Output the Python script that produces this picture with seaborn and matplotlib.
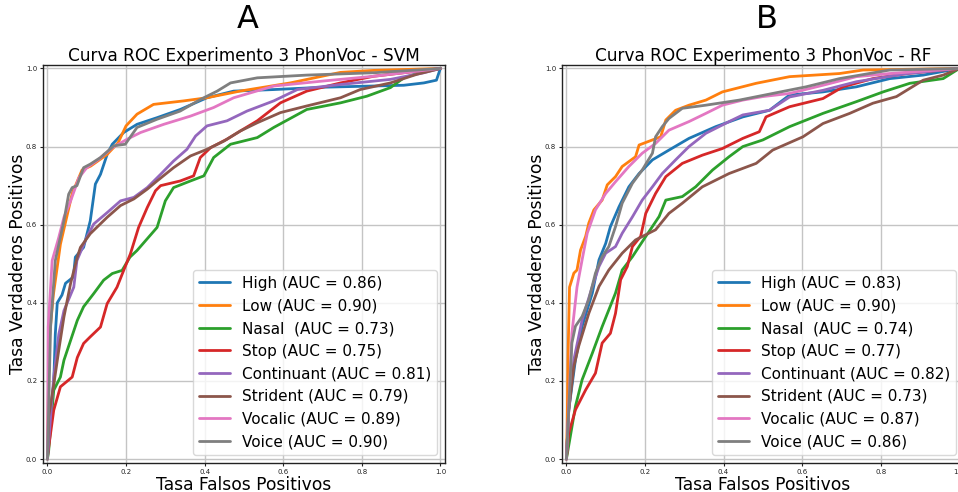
import numpy as np
import pandas as pd
import seaborn as sns
import matplotlib
matplotlib.use("Agg")
import matplotlib.pyplot as plt

# clases y AUC
clases = ["High", "Low", "Nasal ", "Stop", "Continuant", "Strident", "Vocalic", "Voice"]
auc_svm = [0.86, 0.90, 0.73, 0.75, 0.81, 0.79, 0.89, 0.90]
auc_rf = [0.83, 0.90, 0.74, 0.77, 0.82, 0.73, 0.87, 0.86]

# puntos ROC (fpr, tpr) - SVM
svm_high_fpr = [0, 0.003, 0.016, 0.02, 0.025, 0.037, 0.046, 0.066, 0.071, 0.092, 0.109, 0.122, 0.135, 0.152, 0.165, 0.194, 0.228, 0.279, 0.338, 0.406, 0.474, 0.576, 0.703, 0.907, 0.958, 0.99, 1.0]
svm_high_tpr = [0, 0.074, 0.194, 0.32, 0.40, 0.42, 0.45, 0.466, 0.517, 0.542, 0.61, 0.704, 0.729, 0.78, 0.806, 0.836, 0.857, 0.874, 0.895, 0.925, 0.942, 0.946, 0.952, 0.957, 0.963, 0.97, 1.0]
svm_low_fpr = [0, 0.004, 0.015, 0.033, 0.063, 0.088, 0.11, 0.152, 0.18, 0.2, 0.228, 0.27, 0.347, 0.406, 0.49, 0.618, 0.746, 0.83, 1.0]
svm_low_tpr = [0, 0.30, 0.42, 0.55, 0.68, 0.74, 0.75, 0.78, 0.81, 0.853, 0.883, 0.908, 0.917, 0.925, 0.942, 0.963, 0.99, 0.995, 1.0]
svm_nasal_fpr = [0, 0.003, 0.016, 0.033, 0.042, 0.059, 0.076, 0.092, 0.118, 0.143, 0.165, 0.19, 0.21, 0.228, 0.279, 0.3, 0.321, 0.364, 0.398, 0.423, 0.466, 0.534, 0.576, 0.66, 0.746, 0.813, 0.873, 0.907, 0.958, 1.0]
svm_nasal_tpr = [0, 0.02, 0.176, 0.21, 0.253, 0.304, 0.355, 0.39, 0.424, 0.458, 0.475, 0.483, 0.517, 0.534, 0.593, 0.661, 0.695, 0.712, 0.725, 0.772, 0.806, 0.823, 0.849, 0.895, 0.912, 0.929, 0.951, 0.976, 0.993, 1.0]
svm_stop_fpr = [0, 0.008, 0.016, 0.033, 0.063, 0.076, 0.092, 0.109, 0.135, 0.152, 0.177, 0.194, 0.211, 0.232, 0.254, 0.275, 0.288, 0.338, 0.372, 0.389, 0.415, 0.457, 0.491, 0.534, 0.593, 0.66, 0.746, 0.83, 1.0]
svm_stop_tpr = [0.006, 0.066, 0.125, 0.185, 0.21, 0.26, 0.296, 0.313, 0.338, 0.398, 0.44, 0.483, 0.525, 0.593, 0.644, 0.687, 0.70, 0.712, 0.725, 0.772, 0.797, 0.819, 0.84, 0.866, 0.912, 0.942, 0.963, 0.98, 1.0]
svm_cont_fpr = [0, 0.008, 0.016, 0.029, 0.042, 0.067, 0.075, 0.1, 0.118, 0.152, 0.186, 0.22, 0.254, 0.288, 0.321, 0.355, 0.377, 0.406, 0.457, 0.508, 0.576, 0.636, 0.746, 0.873, 0.958, 1.0]
svm_cont_tpr = [0, 0.108, 0.21, 0.32, 0.38, 0.44, 0.508, 0.568, 0.602, 0.631, 0.661, 0.67, 0.695, 0.729, 0.763, 0.793, 0.827, 0.853, 0.866, 0.891, 0.917, 0.946, 0.959, 0.972, 0.989, 1.0]
svm_strid_fpr = [0, 0.003, 0.016, 0.029, 0.042, 0.059, 0.076, 0.084, 0.109, 0.152, 0.186, 0.22, 0.254, 0.279, 0.321, 0.364, 0.406, 0.449, 0.491, 0.534, 0.593, 0.66, 0.746, 0.796, 0.873, 0.94, 1.0]
svm_strid_tpr = [0, 0.108, 0.19, 0.28, 0.364, 0.45, 0.517, 0.542, 0.577, 0.619, 0.649, 0.666, 0.691, 0.712, 0.746, 0.776, 0.793, 0.814, 0.84, 0.861, 0.887, 0.904, 0.925, 0.946, 0.963, 0.985, 1.0]
svm_voc_fpr = [0, 0.002, 0.012, 0.029, 0.042, 0.059, 0.08, 0.1, 0.13, 0.165, 0.203, 0.237, 0.296, 0.364, 0.423, 0.474, 0.576, 0.703, 0.83, 1.0]
svm_voc_tpr = [0, 0.338, 0.508, 0.568, 0.619, 0.661, 0.72, 0.746, 0.767, 0.797, 0.819, 0.836, 0.857, 0.878, 0.9, 0.925, 0.955, 0.968, 0.98, 1.0]
svm_voice_fpr = [0, 0.008, 0.02, 0.042, 0.054, 0.063, 0.075, 0.092, 0.109, 0.135, 0.169, 0.198, 0.228, 0.279, 0.338, 0.39, 0.432, 0.466, 0.534, 0.66, 0.83, 1.0]
svm_voice_tpr = [0, 0.338, 0.508, 0.61, 0.678, 0.695, 0.70, 0.746, 0.755, 0.772, 0.802, 0.806, 0.849, 0.87, 0.891, 0.921, 0.942, 0.963, 0.976, 0.983, 0.989, 1.0]

# puntos ROC (fpr, tpr) - RF
rf_high_fpr = [0, 0.006, 0.023, 0.04, 0.066, 0.083, 0.1, 0.112, 0.134, 0.159, 0.185, 0.219, 0.261, 0.312, 0.38, 0.449, 0.517, 0.568, 0.653, 0.738, 0.823, 0.908, 1.0]
rf_high_tpr = [0, 0.126, 0.254, 0.34, 0.425, 0.51, 0.552, 0.595, 0.646, 0.697, 0.731, 0.766, 0.791, 0.821, 0.851, 0.876, 0.893, 0.932, 0.94, 0.953, 0.974, 0.983, 1.0]
rf_low_fpr = [0, 0.002, 0.004, 0.008, 0.019, 0.027, 0.036, 0.049, 0.057, 0.07, 0.091, 0.104, 0.125, 0.142, 0.176, 0.185, 0.219, 0.24, 0.253, 0.278, 0.312, 0.355, 0.397, 0.483, 0.568, 0.695, 0.755, 1.0]
rf_low_tpr = [0, 0.084, 0.254, 0.44, 0.476, 0.484, 0.535, 0.57, 0.604, 0.638, 0.663, 0.702, 0.723, 0.749, 0.774, 0.804, 0.817, 0.825, 0.868, 0.893, 0.906, 0.919, 0.94, 0.962, 0.979, 0.987, 0.996, 1.0]
rf_nasal_fpr = [0, 0.01, 0.023, 0.04, 0.066, 0.091, 0.125, 0.142, 0.168, 0.202, 0.236, 0.253, 0.295, 0.329, 0.372, 0.414, 0.449, 0.5, 0.568, 0.653, 0.738, 0.806, 0.874, 0.959, 1.0]
rf_nasal_tpr = [0, 0.058, 0.135, 0.203, 0.271, 0.339, 0.425, 0.484, 0.518, 0.57, 0.621, 0.663, 0.672, 0.697, 0.74, 0.774, 0.8, 0.817, 0.851, 0.885, 0.915, 0.94, 0.962, 0.974, 1.0]
rf_stop_fpr = [0, 0.006, 0.023, 0.049, 0.074, 0.091, 0.112, 0.125, 0.138, 0.155, 0.168, 0.189, 0.202, 0.227, 0.253, 0.295, 0.346, 0.397, 0.449, 0.491, 0.508, 0.568, 0.653, 0.704, 0.78, 0.866, 1.0]
rf_stop_tpr = [0, 0.066, 0.126, 0.177, 0.22, 0.297, 0.322, 0.373, 0.459, 0.493, 0.544, 0.57, 0.629, 0.68, 0.723, 0.757, 0.778, 0.795, 0.821, 0.838, 0.876, 0.902, 0.923, 0.953, 0.974, 0.987, 1.0]
rf_cont_fpr = [0, 0.006, 0.019, 0.04, 0.066, 0.083, 0.1, 0.125, 0.142, 0.168, 0.193, 0.219, 0.244, 0.278, 0.312, 0.355, 0.414, 0.449, 0.517, 0.568, 0.653, 0.738, 0.866, 1.0]
rf_cont_tpr = [0, 0.126, 0.254, 0.356, 0.442, 0.493, 0.527, 0.544, 0.578, 0.62, 0.663, 0.697, 0.731, 0.766, 0.8, 0.834, 0.864, 0.881, 0.893, 0.927, 0.944, 0.966, 0.987, 1.0]
rf_strid_fpr = [0, 0.006, 0.019, 0.031, 0.057, 0.083, 0.108, 0.142, 0.176, 0.227, 0.261, 0.295, 0.346, 0.414, 0.483, 0.525, 0.602, 0.653, 0.721, 0.78, 0.84, 0.908, 0.959, 1.0]
rf_strid_tpr = [0, 0.126, 0.237, 0.288, 0.373, 0.442, 0.484, 0.527, 0.561, 0.587, 0.629, 0.655, 0.697, 0.731, 0.757, 0.791, 0.825, 0.859, 0.885, 0.911, 0.928, 0.97, 0.983, 1.0]
rf_voc_fpr = [0, 0.002, 0.014, 0.027, 0.04, 0.053, 0.074, 0.1, 0.125, 0.159, 0.193, 0.227, 0.261, 0.312, 0.355, 0.397, 0.449, 0.5, 0.568, 0.653, 0.738, 0.823, 1.0]
rf_voc_tpr = [0, 0.04, 0.322, 0.44, 0.51, 0.578, 0.638, 0.68, 0.71, 0.749, 0.783, 0.808, 0.842, 0.864, 0.885, 0.906, 0.919, 0.928, 0.936, 0.957, 0.979, 0.987, 1.0]
rf_voice_fpr = [0, 0.006, 0.014, 0.023, 0.04, 0.057, 0.074, 0.091, 0.108, 0.125, 0.142, 0.168, 0.193, 0.219, 0.227, 0.244, 0.261, 0.295, 0.355, 0.44, 0.525, 0.61, 0.695, 0.823, 1.0]
rf_voice_tpr = [0, 0.126, 0.297, 0.34, 0.365, 0.408, 0.476, 0.518, 0.544, 0.595, 0.655, 0.706, 0.74, 0.783, 0.825, 0.851, 0.872, 0.898, 0.906, 0.919, 0.936, 0.953, 0.974, 0.996, 1.0]

svm_curves = [(svm_high_fpr, svm_high_tpr), (svm_low_fpr, svm_low_tpr), (svm_nasal_fpr, svm_nasal_tpr),
              (svm_stop_fpr, svm_stop_tpr), (svm_cont_fpr, svm_cont_tpr), (svm_strid_fpr, svm_strid_tpr),
              (svm_voc_fpr, svm_voc_tpr), (svm_voice_fpr, svm_voice_tpr)]
rf_curves = [(rf_high_fpr, rf_high_tpr), (rf_low_fpr, rf_low_tpr), (rf_nasal_fpr, rf_nasal_tpr),
             (rf_stop_fpr, rf_stop_tpr), (rf_cont_fpr, rf_cont_tpr), (rf_strid_fpr, rf_strid_tpr),
             (rf_voc_fpr, rf_voc_tpr), (rf_voice_fpr, rf_voice_tpr)]

sns.set_theme(style="whitegrid", rc={
    "axes.edgecolor": "#222222",
    "axes.linewidth": 1.0,
    "grid.color": "#c4c4c4",
    "grid.linewidth": 1.0,
    "xtick.bottom": True,
    "ytick.left": True,
    "xtick.major.size": 2.5,
    "ytick.major.size": 2.5,
    "xtick.major.width": 0.8,
    "ytick.major.width": 0.8,
    "xtick.color": "#222222",
    "ytick.color": "#222222",
    "text.color": "black",
    "axes.labelcolor": "black",
})
plt.rcParams["font.family"] = ["DejaVu Sans"]

colores = sns.color_palette("tab10", 8)


def roc_panel(ax, curvas, aucs, titulo, letra):
    for i, (fpr, tpr) in enumerate(curvas):
        df = pd.DataFrame({"fpr": fpr, "tpr": tpr})
        sns.lineplot(data=df, x="fpr", y="tpr", ax=ax, color=colores[i], lw=2,
                     estimator=None, sort=False,
                     label=f"{clases[i]} (AUC = {aucs[i]:.2f})")
    ax.set_xlim(-0.012, 1.012)
    ax.set_ylim(-0.01, 1.009)
    ax.set_xticks(np.arange(0, 1.01, 0.2))
    ax.set_yticks(np.arange(0, 1.01, 0.2))
    ax.tick_params(labelsize=5, pad=1.5)
    ax.set_xlabel("Tasa Falsos Positivos", fontsize=12.3, labelpad=1)
    ax.set_ylabel("Tasa Verdaderos Positivos", fontsize=12.3, labelpad=-1)
    ax.set_title(titulo, fontsize=12.2, pad=3)
    ax.text(0.51, 1.075, letra, transform=ax.transAxes, fontsize=23, ha="center", va="bottom")
    leg = ax.legend(loc="lower right", fontsize=11, frameon=True, borderaxespad=0.5)
    leg.get_frame().set_edgecolor("#d0d0d0")


fig = plt.figure(figsize=(9.58, 4.92), dpi=100)
ax1 = fig.add_axes([0.0446, 0.059, 0.42, 0.809])
ax2 = fig.add_axes([0.5863, 0.059, 0.42, 0.809])

roc_panel(ax1, svm_curves, auc_svm, "Curva ROC Experimento 3 PhonVoc - SVM", "A")
roc_panel(ax2, rf_curves, auc_rf, "Curva ROC Experimento 3 PhonVoc - RF", "B")

fig.savefig("out.png", dpi=100)
